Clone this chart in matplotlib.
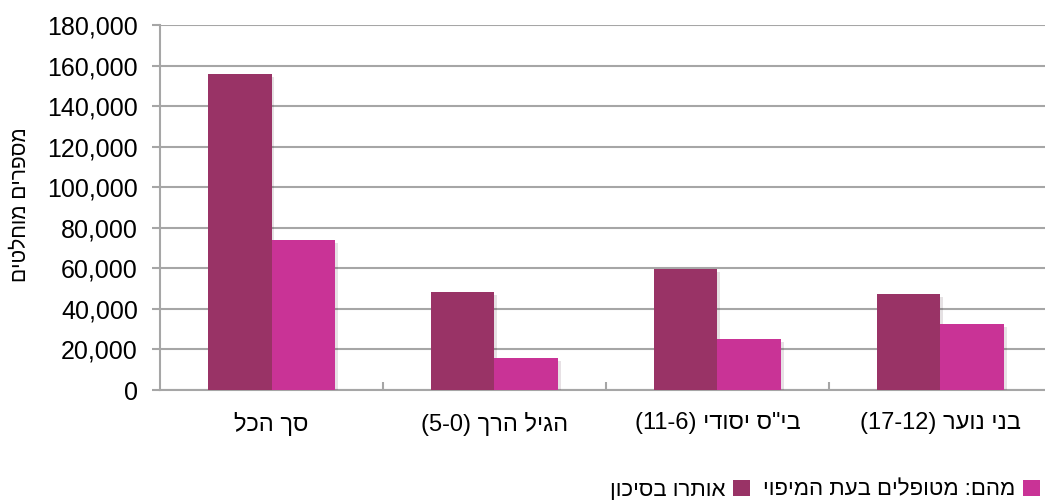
import matplotlib
matplotlib.use("Agg")
import matplotlib.pyplot as plt
from matplotlib.patches import Patch
from matplotlib.ticker import FuncFormatter, FixedLocator
import matplotlib.patheffects as pe
import numpy as np

# ---- data ----
categories = ["סך הכל", "הגיל הרך (0-5)", "בי\"ס יסודי (6-11)", "בני נוער (12-17)"]
series_names = ["אותרו בסיכון", "מהם: מטופלים בעת המיפוי"]
identified = [155800, 48200, 59500, 47400]
treated = [74000, 15600, 25200, 32600]
y_label = "מספרים מוחלטים"
y_ticks = [0, 20000, 40000, 60000, 80000, 100000, 120000, 140000, 160000, 180000]

colors = ["#993366", "#C93396"]


def visual(s):
    """Simple RTL -> visual-order conversion for matplotlib (no bidi support)."""
    r = s[::-1]
    mirror = {"(": ")", ")": "("}
    r = "".join(mirror.get(c, c) for c in r)
    out, run = [], ""
    for c in r:
        if c.isdigit():
            run += c
        else:
            if run:
                out.append(run[::-1])
                run = ""
            out.append(c)
    if run:
        out.append(run[::-1])
    return "".join(out)


plt.rcParams["font.family"] = ["Liberation Sans", "DejaVu Sans"]

W, H = 1045, 504
fig = plt.figure(figsize=(W / 100, H / 100), dpi=100)
left_px, right_px, top_px, bottom_px = 160, 1052, 25.3, 390
ax = fig.add_axes([left_px / W, 1 - bottom_px / H, (right_px - left_px) / W, (bottom_px - top_px) / H])

x = np.arange(len(categories))
bw = 0.285
shadow = [pe.SimplePatchShadow(offset=(2, -2), alpha=0.12), pe.Normal()]
b1 = ax.bar(x - bw / 2, identified, bw, color=colors[0], zorder=3)
b2 = ax.bar(x + bw / 2, treated, bw, color=colors[1], zorder=3)
for b in list(b1) + list(b2):
    b.set_path_effects(shadow)

ax.set_xlim(-0.5, len(categories) - 0.5)
ax.set_ylim(0, 180000)
ax.set_yticks(y_ticks)
ax.yaxis.set_major_formatter(FuncFormatter(lambda v, p: f"{int(v):,}"))
ax.grid(axis="y", color="#A6A6A6", linewidth=1.5, zorder=0)
ax.set_axisbelow(True)

for s in ["top", "right"]:
    ax.spines[s].set_visible(False)
ax.spines["left"].set_color("#A6A6A6")
ax.spines["left"].set_linewidth(1.5)
ax.spines["bottom"].set_color("#A6A6A6")
ax.spines["bottom"].set_linewidth(1.5)

ax.tick_params(axis="y", length=6, width=1.5, color="#A6A6A6", labelsize=18, pad=10, labelcolor="#000000")
ax.set_xticks(x)
ax.set_xticklabels([visual(c) for c in categories])
ax.tick_params(axis="x", which="major", length=0, labelsize=17, pad=16)
ax.xaxis.set_minor_locator(FixedLocator(np.arange(0.5, len(categories) - 0.5, 1)))
ax.tick_params(axis="x", which="minor", direction="in", length=6, width=1.5, color="#A6A6A6")

fig.text(20 / W, 1 - 205 / H, visual(y_label), rotation=90, ha="center", va="center", fontsize=15)

handles = [Patch(facecolor=colors[0]), Patch(facecolor=colors[1])]
fig.legend(handles, [visual(n) for n in series_names], loc="center right",
           bbox_to_anchor=(1040 / W, 1 - 490 / H), ncol=2, frameon=False,
           markerfirst=False, fontsize=16, handlelength=0.75, handleheight=0.75,
           handletextpad=0.35, columnspacing=0.6, borderpad=0, borderaxespad=0)

fig.savefig("out.png", dpi=100)
